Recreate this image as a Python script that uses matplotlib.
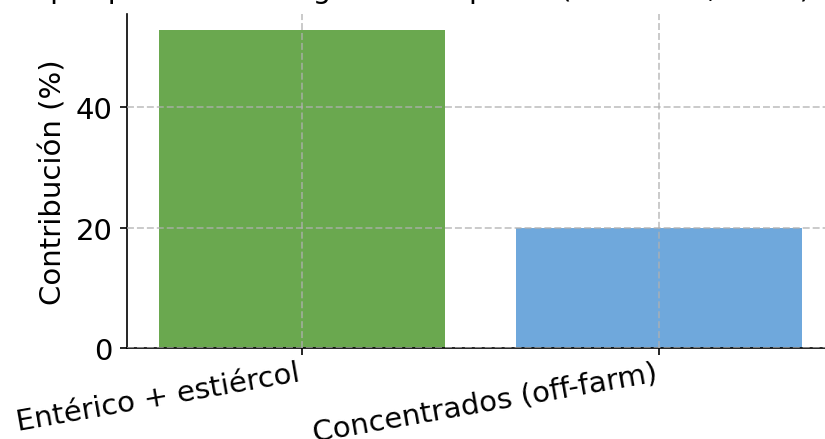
import matplotlib
matplotlib.use('Agg')

import matplotlib.pyplot as plt

# Contribución de cada fuente a la huella total (%)
fuentes = ['Entérico + estiércol', 'Concentrados (off-farm)']
contribucion = [52.8, 19.9]
colores = ['#6aa84f', '#6fa8dc']

titulo = 'Huella de carbono por proceso de la ganadería piloto (estimado, 2024)'

plt.rcParams['font.size'] = 14

fig = plt.figure(figsize=(5.5, 440 / 150), dpi=150)
ax = fig.add_axes([127 / 825, 91 / 440, 707 / 825, 334 / 440])

ax.bar(fuentes, contribucion, color=colores, width=0.8)

# Título alineado a la derecha, por encima del área de trazado
fig.text(811 / 825, 442 / 440, titulo, ha='right', va='baseline', fontsize=14)
ax.set_ylabel('Contribución (%)')

ax.set_yticks([0, 20, 40])
plt.xticks(rotation=10, ha='right')
ax.tick_params(axis='x', pad=1.5)

# Grilla punteada por encima de las barras
ax.set_axisbelow(False)
ax.grid(True, linestyle='--', color='#b0b0b0', alpha=0.7, linewidth=0.9)

ax.spines['top'].set_visible(False)
ax.spines['right'].set_visible(False)

fig.savefig('out.png', dpi=150)
plt.close(fig)
